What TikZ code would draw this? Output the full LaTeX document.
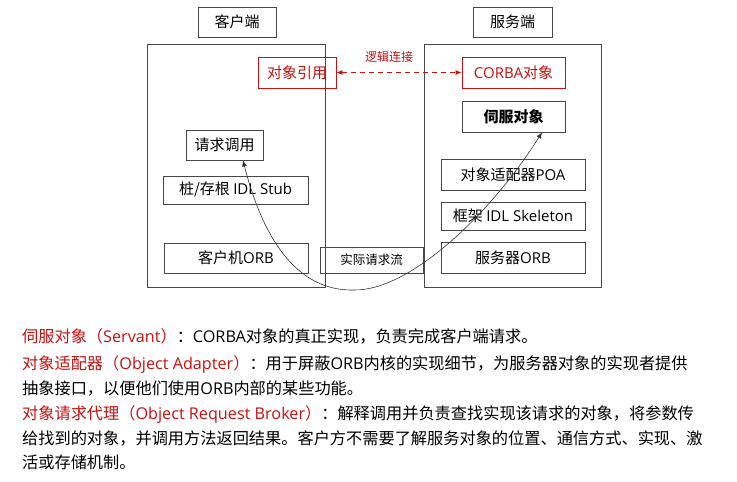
\documentclass[tikz,border=0pt]{standalone}
\usepackage{fontspec}
\setmainfont{Noto Sans CJK SC}
\newfontfamily\latfont{Open Sans}
\newcommand\latx[1]{{\latfont #1}}
\usetikzlibrary{arrows.meta,calc}
\definecolor{myred}{RGB}{200,16,16}
\definecolor{lineg}{RGB}{70,70,70}
\begin{document}
\begin{tikzpicture}[x=1pt,y=-1pt,
  box/.style={draw=lineg, line width=0.8pt, inner sep=0pt, font=\fontsize{15}{17}\selectfont},
  redbox/.style={draw=myred, line width=0.8pt, inner sep=0pt, text=myred, font=\fontsize{15}{17}\selectfont},
  desc/.style={anchor=base west, inner sep=0pt, font=\fontsize{16.2}{20}\selectfont},
  bothtips/.style={{Latex[length=6pt,width=5pt]}-{Latex[length=6pt,width=5pt]}}]
\fill[white] (0,0) rectangle (737,482);
\useasboundingbox (0,0) rectangle (737,482);
% containers
\node[box, minimum width=178, minimum height=243] (client) at (236,165.5) {};
\node[box, minimum width=177, minimum height=243] (server) at (512.5,165.5) {};
\node[box, minimum width=78, minimum height=30] (cltitle) at (237,22) {客户端};
\node[box, minimum width=79, minimum height=30] (svtitle) at (512.5,22) {服务端};
% client side
\node[redbox, minimum width=78, minimum height=31] (ref) at (297,72.5) {对象引用};
\node[box, minimum width=77, minimum height=30] (call) at (224.5,145) {请求调用};
\node[box, minimum width=145, minimum height=28] (stub) at (235.5,190) {桩/存根 \latx{IDL Stub}};
\node[box, minimum width=144, minimum height=30] (corb) at (236,258) {客户机\latx{ORB}};
\node[box, minimum width=103, minimum height=26, font=\fontsize{12.5}{15}\selectfont] (flow) at (371.5,260) {实际请求流};
% server side
\node[redbox, minimum width=103, minimum height=31] (corba) at (513.5,72.5) {\latx{CORBA}对象};
\node[box, minimum width=103, minimum height=31, font=\fontsize{15}{17}\selectfont\bfseries] (servant) at (513.5,116.5) {伺服对象};
\node[box, minimum width=144, minimum height=31] (poa) at (513,174.5) {对象适配器\latx{POA}};
\node[box, minimum width=144, minimum height=28] (skel) at (513,216) {框架 \latx{IDL Skeleton}};
\node[box, minimum width=144, minimum height=31] (sorb) at (513,257.5) {服务器\latx{ORB}};
% logical link
\draw[myred, line width=0.8pt, dash pattern=on 5pt off 4pt, bothtips] (ref.east) -- (corba.west);
\node[text=myred, font=\fontsize{12}{14}\selectfont, inner sep=0pt] (lbl) at (389,57) {逻辑连接};
% actual request flow curve
\draw[black!80, line width=0.6pt, bothtips] ([xshift=18.5]call.south) .. controls (262,235) and (295,292) .. (355,290) .. controls (410,290) and (490,215) .. ([xshift=28.5]servant.south);
% description text
\node[desc] (d1) at (22,342) {\textcolor{myred}{伺服对象（\latx{Servant}）}：\latx{CORBA}对象的真正实现，负责完成客户端请求。};
\node[desc] (d2) at (22,369) {\textcolor{myred}{对象适配器（\latx{Object Adapter}）}：用于屏蔽\latx{ORB}内核的实现细节，为服务器对象的实现者提供};
\node[desc] (d3) at (22,394) {抽象接口，以便他们使用\latx{ORB}内部的某些功能。};
\node[desc] (d4) at (22,419) {\textcolor{myred}{对象请求代理（\latx{Object Request Broker}）}：解释调用并负责查找实现该请求的对象，将参数传};
\node[desc] (d5) at (22,444) {给找到的对象，并调用方法返回结果。客户方不需要了解服务对象的位置、通信方式、实现、激};
\node[desc] (d6) at (22,468) {活或存储机制。};
\end{tikzpicture}
\end{document}
